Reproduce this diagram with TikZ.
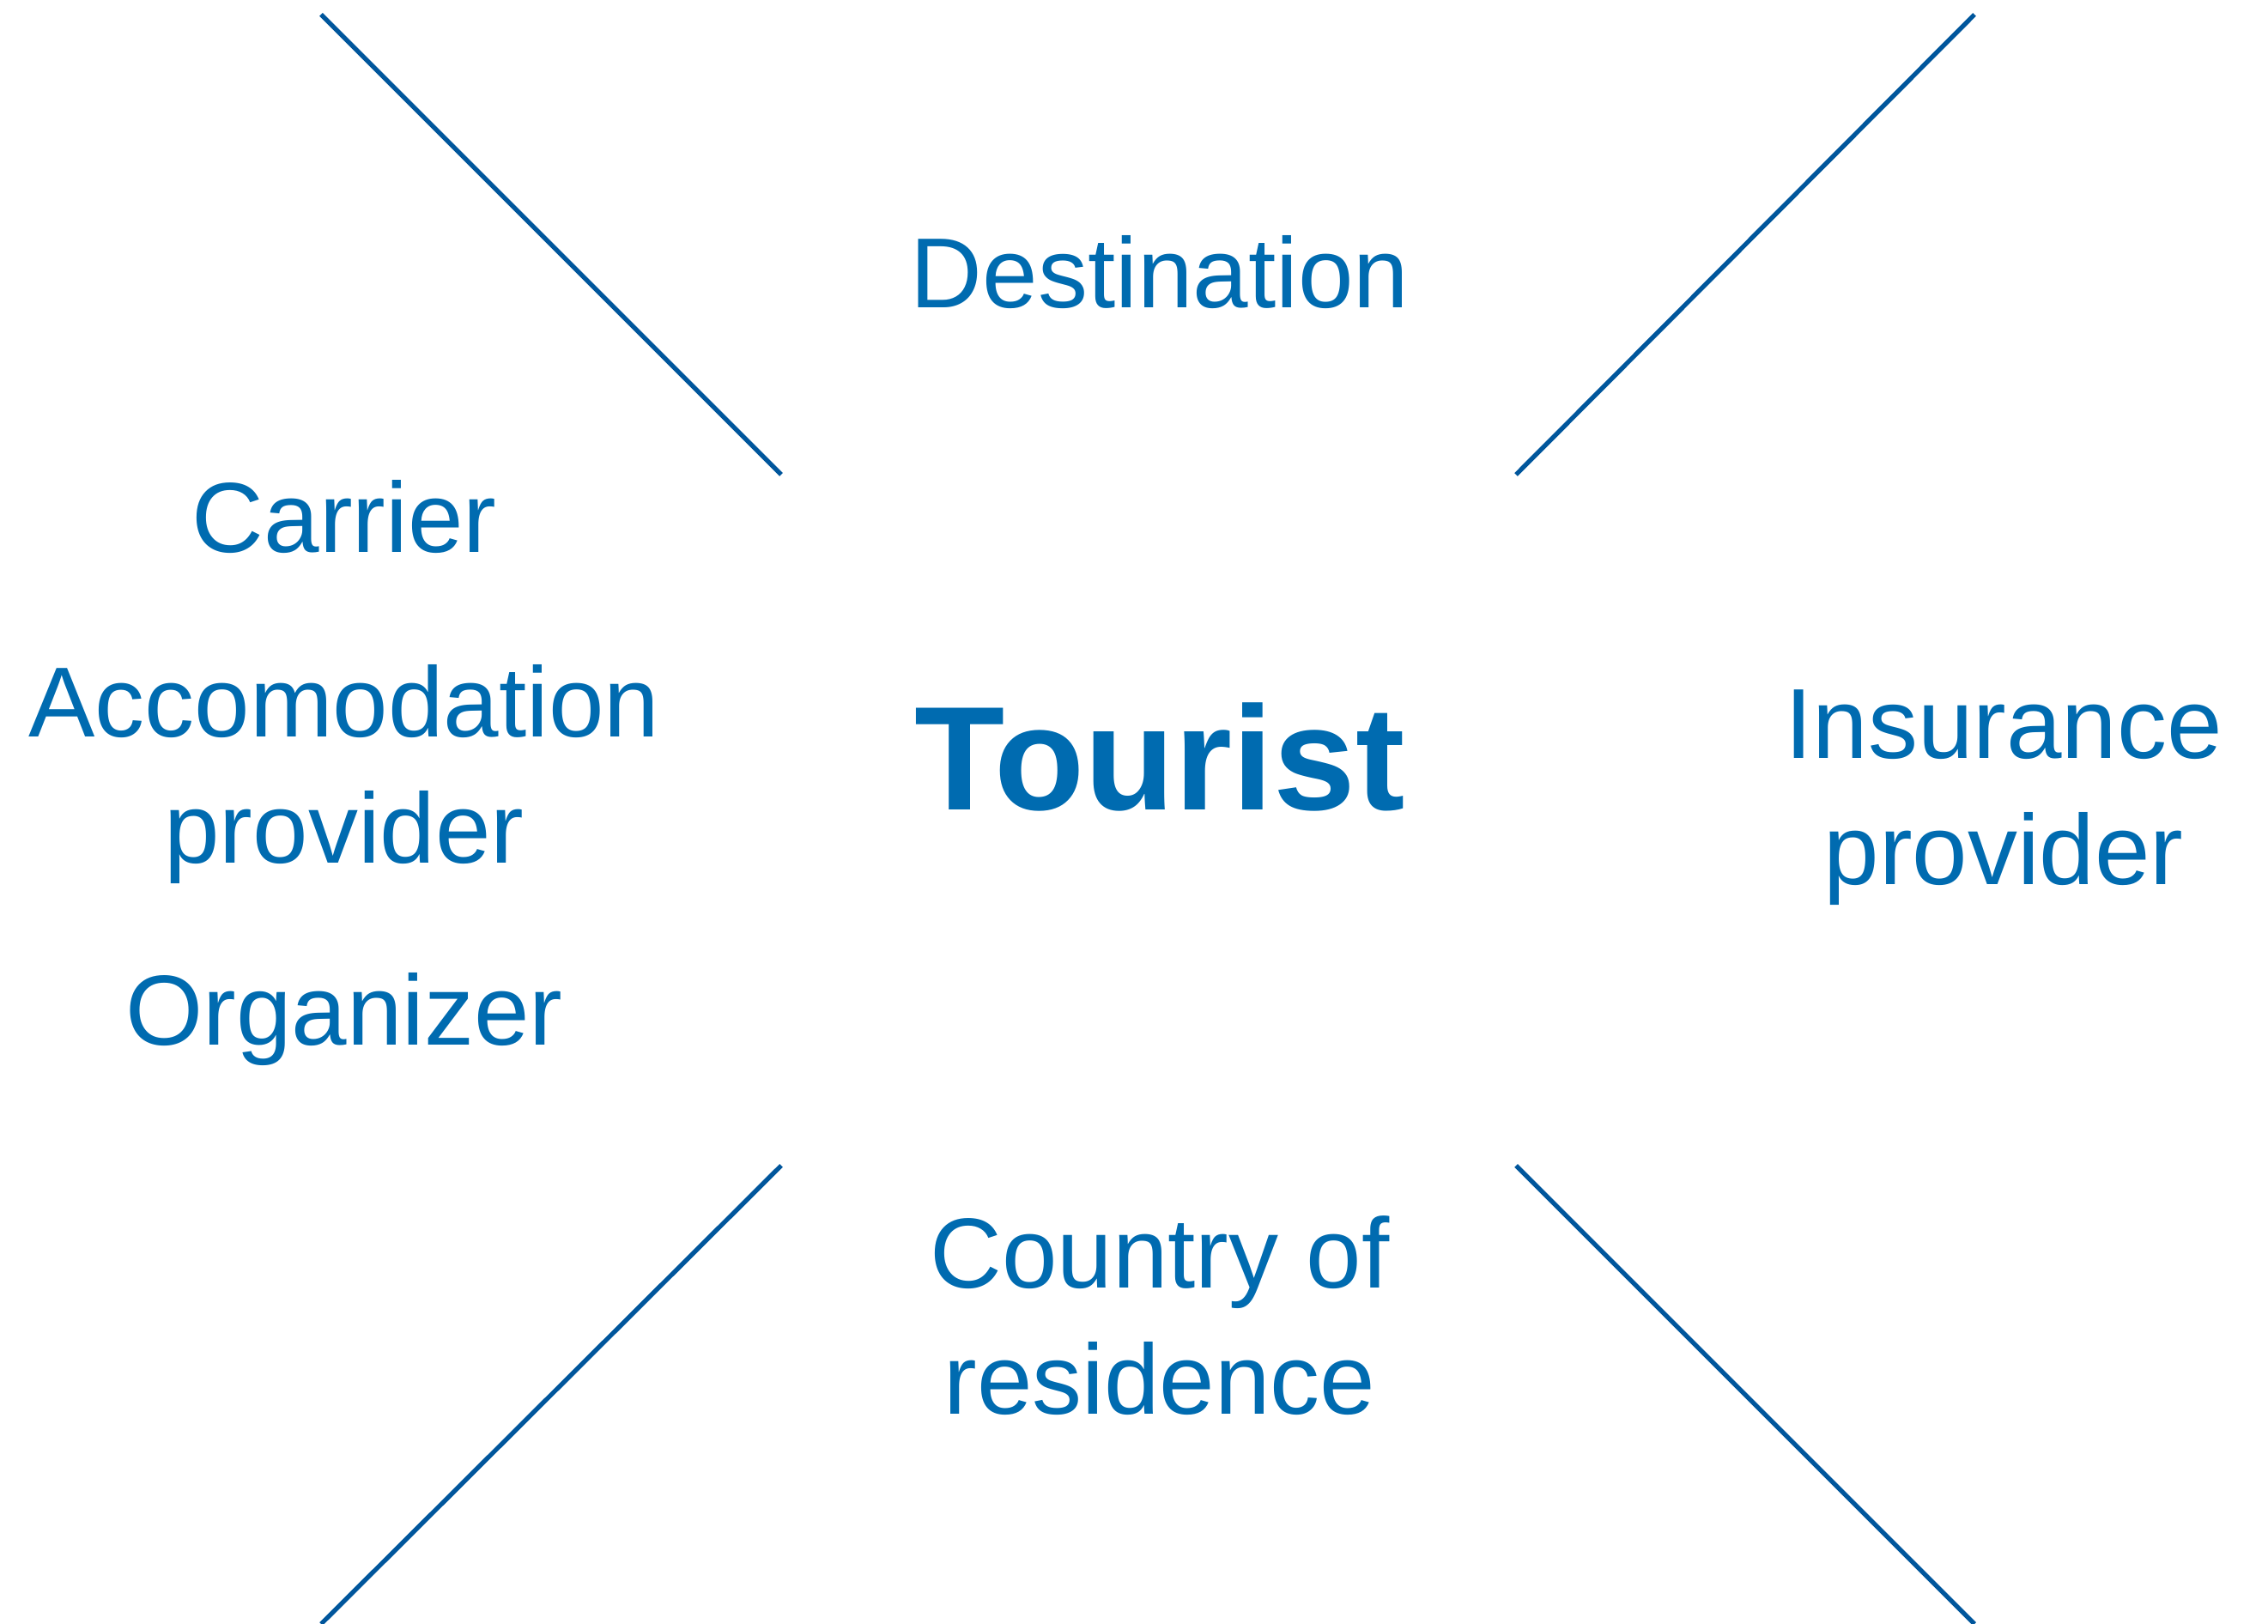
\documentclass[tikz,border=0pt]{standalone}
\usepackage{fontspec}
\setmainfont{Liberation Sans}
\usetikzlibrary{arrows.meta}

\definecolor{lineblue}{HTML}{00569C}
\definecolor{textblue}{HTML}{006BB0}

\begin{document}
\begin{tikzpicture}[
    word/.style={text=textblue, anchor=base, align=center, inner sep=0pt,
                 font=\fontsize{33}{42}\selectfont},
    ray/.style={draw=lineblue, line width=1.5pt}
  ]

    \useasboundingbox (0,0) rectangle (26.42,18.92);

    % centre
    \node[word, font=\fontsize{49}{60}\selectfont\bfseries] (tourist) at (13.51,9.48) {Tourist};

    % top
    \node[word] (dest) at (13.51,15.33) {Destination};

    % left column
    \node[word] (carrier) at (4.01,12.48) {Carrier};
    \node[word] (accom) at (4.01,8.86) {Accomodation\\provider}; % base = last line
    \node[word] (organizer) at (4.01,6.74) {Organizer};

    % right
    \node[word] (insur) at (23.34,8.61) {Insurance\\provider};

    % bottom
    \node[word] (country) at (13.51,2.44) {Country of\\residence};

    %%%%%%%%%%%%%%%%%%%%%%%%%%%%%%%%%%%%%%%%%%%%%%%%%%%%%%%%%

    % diagonal rays
    \coordinate (tlA) at (3.74,18.75);  \coordinate (tlB) at (9.10,13.39);
    \coordinate (trA) at (23.00,18.75); \coordinate (trB) at (17.66,13.39);
    \coordinate (blA) at (9.10,5.34);   \coordinate (blB) at (3.74,0);
    \coordinate (brA) at (17.66,5.34);  \coordinate (brB) at (23.00,0);

    \draw[ray] (tlA) to (tlB);
    \draw[ray] (trA) to (trB);
    \draw[ray] (blA) to (blB);
    \draw[ray] (brA) to (brB);

\end{tikzpicture}
\end{document}
